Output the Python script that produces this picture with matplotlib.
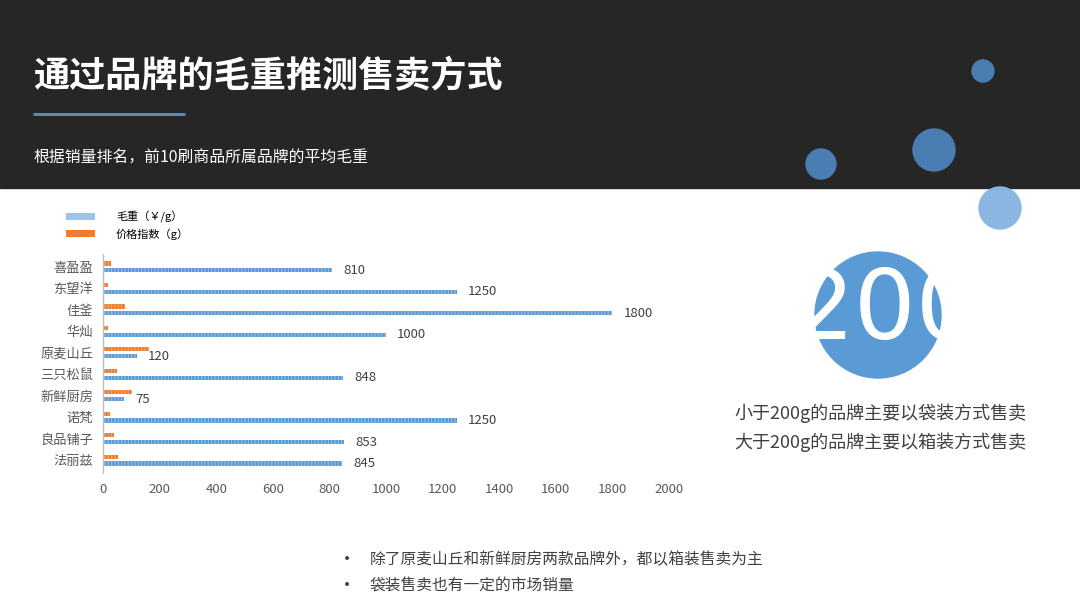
import matplotlib
matplotlib.use('Agg')
import matplotlib.pyplot as plt
from matplotlib.patches import Rectangle, Circle, Patch
import numpy as np

plt.rcParams['font.family'] = ['Noto Sans CJK SC', 'DejaVu Sans']
plt.rcParams['hatch.linewidth'] = 0.7

# ---- data ----
brands = ['喜盈盈', '东望洋', '佳釜', '华灿', '原麦山丘', '三只松鼠', '新鲜厨房', '诺梵', '良品铺子', '法丽兹']
gross_weight = [810, 1250, 1800, 1000, 120, 848, 75, 1250, 853, 845]
price_index = [30, 18, 77, 18, 163, 49, 104, 24, 39, 53]
series_names = ['毛重（￥/g）', '价格指数（g）']
x_ticks = [0, 200, 400, 600, 800, 1000, 1200, 1400, 1600, 1800, 2000]

title = '通过品牌的毛重推测售卖方式'
subtitle = '根据销量排名，前10刷商品所属品牌的平均毛重'
big_number = '200'
notes_right = ['小于200g的品牌主要以袋装方式售卖', '大于200g的品牌主要以箱装方式售卖']
bullets = ['除了原麦山丘和新鲜厨房两款品牌外，都以箱装售卖为主', '袋装售卖也有一定的市场销量']

BLUE = '#5b9bd5'
ORANGE = '#ed7d31'

fig = plt.figure(figsize=(10.8, 6.08), dpi=100)

# ---- background / decoration layer (pixel coordinates) ----
bg = fig.add_axes([0, 0, 1, 1], zorder=0)
bg.set_xlim(0, 1080)
bg.set_ylim(608, 0)
bg.axis('off')
bg.add_patch(Rectangle((0, 0), 1080, 188, color='#262626', zorder=0))
bg.plot([33, 185], [114, 114], color='#5a86b8', lw=2.2, solid_capstyle='butt')
bg.text(33, 76, title, color='white', fontsize=26, fontweight='bold', va='center', ha='left')
bg.text(33, 158, subtitle, color='white', fontsize=11.4, va='center', ha='left')

for (cx, cy, r, c) in [(983, 71, 11, '#4a7db2'), (934, 150, 21, '#4a7db2'),
                       (821, 164, 15, '#4a7db2'), (1000, 208, 21, '#8ab6e2')]:
    bg.add_patch(Circle((cx, cy), r, color=c, zorder=1))

bg.add_patch(Circle((878, 315), 63, color=BLUE, zorder=1))
bg.text(886, 312, big_number, color='white', fontsize=70, va='center', ha='center',
        family=['Liberation Sans Narrow', 'DejaVu Sans Condensed', 'DejaVu Sans'], zorder=2)
for i, t in enumerate(notes_right):
    bg.text(880, 413 + 29 * i, t, color='#404040', fontsize=13, va='center', ha='center')

for i, t in enumerate(bullets):
    y = 560 + 26 * i
    bg.text(347, y, '•', color='#404040', fontsize=13, va='center', ha='center')
    bg.text(370, y, t, color='#404040', fontsize=11.3, va='center', ha='left')

# ---- chart ----
ax = fig.add_axes([103 / 1080, (608 - 473) / 608, 566 / 1080, (473 - 254) / 608], zorder=2)
ax.set_facecolor('none')
ypos = np.arange(len(brands))
off, h = 0.16, 0.2
ax.barh(ypos - off, price_index, height=h, color=ORANGE, edgecolor='#f4a979', linewidth=0, hatch='|||||')
bars = ax.barh(ypos + off, gross_weight, height=h, color=BLUE, edgecolor='#9cc3e8', linewidth=0, hatch='|||||')
for yv, v in zip(ypos + off, gross_weight):
    ax.annotate(str(v), (v, yv), xytext=(8, 0), textcoords='offset points', va='center', ha='left',
                fontsize=9.5, color='#404040')

ax.set_xlim(0, 2000)
ax.set_ylim(len(brands) - 0.4, -0.6)
ax.set_xticks(x_ticks)
ax.set_yticks(ypos)
ax.set_yticklabels(brands)
ax.tick_params(axis='both', length=0, labelsize=9.5, labelcolor='#595959')
ax.tick_params(axis='x', pad=7)
ax.tick_params(axis='y', pad=7)
for s in ['top', 'right', 'bottom']:
    ax.spines[s].set_visible(False)
ax.spines['left'].set_color('#bfbfbf')
ax.spines['left'].set_linewidth(1)

handles = [Patch(facecolor='#9dc3e6', edgecolor='none'), Patch(facecolor=ORANGE, edgecolor='none')]
fig.legend(handles, series_names, loc='upper left', bbox_to_anchor=(66 / 1080, 1 - 211 / 608),
           frameon=False, fontsize=8, handlelength=2.6, handleheight=0.6, labelspacing=0.45,
           handletextpad=1.9, borderpad=0, borderaxespad=0)

fig.savefig('out.png', dpi=100)
